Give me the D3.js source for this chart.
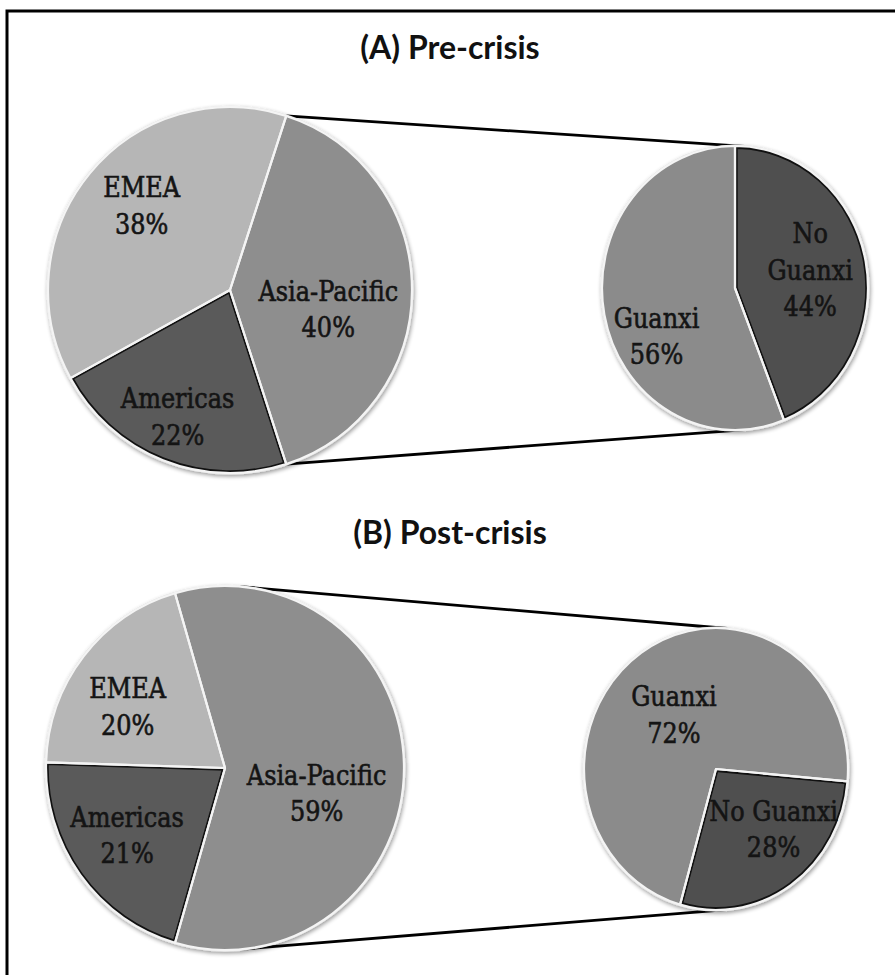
<!DOCTYPE html>
<html>
<head>
<meta charset="utf-8">
<script src="https://cdn.jsdelivr.net/npm/d3@7"></script>
<style>
  body { margin: 0; background: #fff; }
  svg { display: block; }
</style>
</head>
<body>
<svg id="chart" width="895" height="975"></svg>
<script>
// ---- data ----
const panelTitles = ["(A) Pre-crisis", "(B) Post-crisis"];
const regionNames = ["Asia-Pacific", "Americas", "EMEA"];
const preRegionShare = [40, 22, 38];
const postRegionShare = [59, 21, 20];
const guanxiNames = ["No Guanxi", "Guanxi"];
const preGuanxiShare = [44, 56];
const postGuanxiShare = [28, 72];

// ---- styling ----
const sliceColor = {
  "Asia-Pacific": "#8e8e8e",
  "Americas": "#5a5a5a",
  "EMEA": "#b6b6b6",
  "Guanxi": "#8b8b8b",
  "No Guanxi": "#505050"
};
const darkSlices = new Set(["Americas", "No Guanxi"]);
const labelFont = "'DejaVu Serif', serif";
const titleFont = "Lato, 'Open Sans', sans-serif";
const deg = Math.PI / 180;

// Panel geometry and label placement (radius fraction, angle nudge in degrees)
const panels = [
  {
    title: panelTitles[0], titleY: 59,
    main: { cx: 230, cy: 290, rx: 182, ry: 183, names: regionNames, values: preRegionShare },
    sub: { cx: 735, cy: 288, rx: 133, ry: 142, names: guanxiNames, values: preGuanxiShare, start: 0 },
    labelPos: {
      "EMEA": [0.67, 4], "Asia-Pacific": [0.55, 11], "Americas": [0.75, 1],
      "No Guanxi": [0.58, -2], "Guanxi": [0.68, -19]
    },
    lines: { "No Guanxi": ["No", "Guanxi"] }
  },
  {
    title: panelTitles[1], titleY: 544,
    main: { cx: 225, cy: 768, rx: 179, ry: 182, names: regionNames, values: postRegionShare },
    sub: { cx: 716, cy: 769, rx: 132, ry: 141, names: guanxiNames, values: postGuanxiShare, start: 95 },
    labelPos: {
      "EMEA": [0.64, -6], "Asia-Pacific": [0.53, 15], "Americas": [0.66, 2],
      "No Guanxi": [0.61, -11], "Guanxi": [0.5, -5]
    },
    lines: {}
  }
];

const svg = d3.select("#chart");
const defs = svg.append("defs");

const shadow = defs.append("filter").attr("id", "pieShadow")
  .attr("x", "-10%").attr("y", "-10%").attr("width", "120%").attr("height", "120%");
shadow.append("feGaussianBlur").attr("in", "SourceAlpha").attr("stdDeviation", 2.2).attr("result", "blur");
shadow.append("feOffset").attr("in", "blur").attr("dx", 1).attr("dy", 2).attr("result", "off");
shadow.append("feComponentTransfer").attr("in", "off").attr("result", "soft")
  .append("feFuncA").attr("type", "linear").attr("slope", 0.4);
const merge = shadow.append("feMerge");
merge.append("feMergeNode").attr("in", "soft");
merge.append("feMergeNode").attr("in", "SourceGraphic");

// Figure frame (left and top rules)
svg.append("path")
  .attr("d", "M7,975 V11 H895")
  .attr("fill", "none").attr("stroke", "#000").attr("stroke-width", 3);

let clipId = 0;

function drawPie(g, spec, startAngle, labelPos, lines) {
  const data = spec.names.map((n, i) => ({ name: n, value: spec.values[i] }));
  const arcs = d3.pie().value(d => d.value).sort(null)
    .startAngle(startAngle).endAngle(startAngle + 2 * Math.PI)(data);
  const arc = d3.arc().innerRadius(0).outerRadius(spec.rx);
  const tf = `translate(${spec.cx},${spec.cy}) scale(1,${spec.ry / spec.rx})`;

  const body = g.append("g").attr("transform", tf).attr("filter", "url(#pieShadow)");
  // outer light rim
  body.append("circle").attr("r", spec.rx + 1.5).attr("fill", "#e6e6e6");

  arcs.forEach(a => {
    body.append("path").attr("d", arc(a)).attr("fill", sliceColor[a.data.name]);
  });
  // dark inner edging on the darkest slices
  arcs.filter(a => darkSlices.has(a.data.name)).forEach(a => {
    const id = "clip" + (clipId++);
    defs.append("clipPath").attr("id", id).append("path").attr("d", arc(a));
    g.append("g").attr("transform", tf).append("path")
      .attr("d", arc(a)).attr("fill", "none")
      .attr("stroke", "#111").attr("stroke-width", 5.5)
      .attr("clip-path", `url(#${id})`);
  });
  // white slice separators
  const sep = g.append("g").attr("transform", tf);
  arcs.forEach(a => {
    sep.append("path").attr("d", arc(a)).attr("fill", "none")
      .attr("stroke", "#f4f4f4").attr("stroke-width", 2.2)
      .attr("stroke-linejoin", "round")
      .attr("vector-effect", "non-scaling-stroke");
  });

  // labels
  arcs.forEach(a => {
    const [f, nudge] = labelPos[a.data.name];
    const ang = (a.startAngle + a.endAngle) / 2 + nudge * deg;
    const x = spec.cx + f * spec.rx * Math.sin(ang);
    const y = spec.cy - f * spec.ry * Math.cos(ang);
    const txt = (lines[a.data.name] || [a.data.name]).concat([a.data.value + "%"]);
    const lh = 31.5;
    const t = g.append("text")
      .attr("transform", `translate(${x},${y}) scale(1,1.16)`)
      .attr("text-anchor", "middle")
      .attr("font-family", labelFont).attr("font-size", 24)
      .attr("fill", "#141414")
      .attr("stroke", "#141414").attr("stroke-width", 0.55);
    txt.forEach((s, i) => {
      t.append("tspan").attr("x", 0)
        .attr("y", -(txt.length - 1) * lh / 2 + i * lh + 8.5)
        .text(s);
    });
  });
  return arcs;
}

function pointOn(spec, ang) {
  return [spec.cx + spec.rx * Math.sin(ang), spec.cy - spec.ry * Math.cos(ang)];
}

panels.forEach(p => {
  const g = svg.append("g");
  const m = p.main, s = p.sub;
  const splitShare = m.values[0] / d3.sum(m.values);
  const mainStart = Math.PI / 2 - splitShare * Math.PI;

  // series lines between the split slice and the secondary pie
  const R = m.ry, r = s.ry;
  const dx = s.cx - m.cx, dy = s.cy - m.cy, d = Math.hypot(dx, dy);
  const u = [dx / d, dy / d];
  const k = (R - r) / d, q = Math.sqrt(1 - k * k);
  [-1, 1].forEach(side => {
    const perp = side < 0 ? [u[1], -u[0]] : [-u[1], u[0]];
    const n = [k * u[0] + q * perp[0], k * u[1] + q * perp[1]];
    const tangAng = Math.atan2(n[0], -n[1]);
    const edgeAng = side < 0 ? mainStart : mainStart + splitShare * 2 * Math.PI;
    let P, T;
    const useEdge = side < 0 ? edgeAng > tangAng : edgeAng < tangAng;
    if (useEdge) {
      P = pointOn(m, edgeAng);
      const ex = s.cx - P[0], ey = s.cy - P[1], dd = Math.hypot(ex, ey);
      const beta = Math.atan2(ey, ex), alpha = Math.asin(r / dd);
      const dir = beta + side * alpha;
      const len = Math.sqrt(dd * dd - r * r);
      T = [P[0] + len * Math.cos(dir), P[1] + len * Math.sin(dir)];
    } else {
      P = [m.cx + m.rx * n[0], m.cy + R * n[1]];
      T = [s.cx + s.rx * n[0], s.cy + r * n[1]];
    }
    g.append("line")
      .attr("x1", P[0]).attr("y1", P[1]).attr("x2", T[0]).attr("y2", T[1])
      .attr("stroke", "#000").attr("stroke-width", 2.8);
  });

  drawPie(g, m, mainStart, p.labelPos, p.lines);
  drawPie(g, s, s.start * deg, p.labelPos, p.lines);

  g.append("text")
    .attr("x", 450).attr("y", p.titleY)
    .attr("text-anchor", "middle")
    .attr("font-family", titleFont).attr("font-weight", 700)
    .attr("font-size", 32).attr("fill", "#111")
    .text(p.title);
});
</script>
</body>
</html>
